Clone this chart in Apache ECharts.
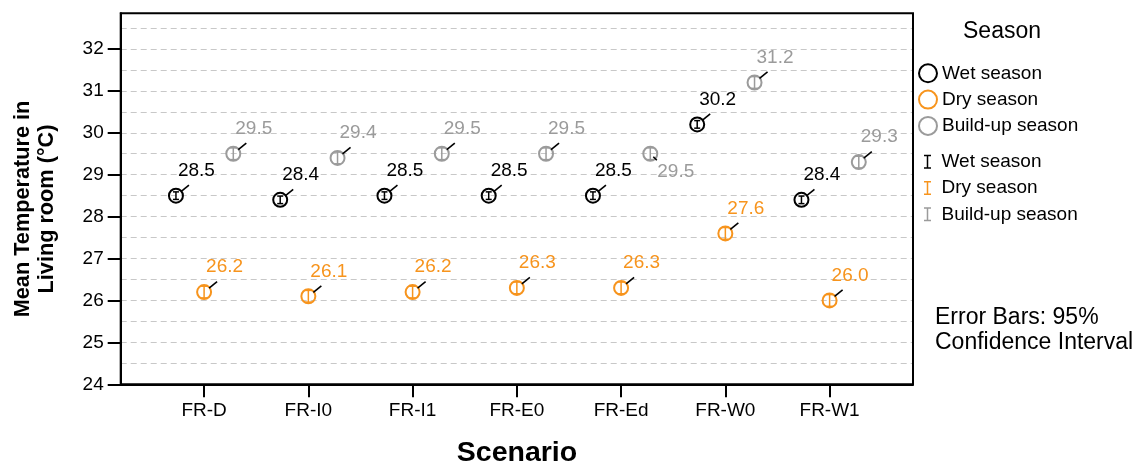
<!DOCTYPE html>
<html>
<head>
<meta charset="utf-8">
<script src="https://cdn.jsdelivr.net/npm/echarts@6/dist/echarts.min.js"></script>
<style>html,body{margin:0;padding:0;background:#fff}#c{width:1141px;height:466px}</style>
</head>
<body>
<div id="c"></div>
<script>
const categories = ['FR-D', 'FR-I0', 'FR-I1', 'FR-E0', 'FR-Ed', 'FR-W0', 'FR-W1'];
const seasons = ['Wet season', 'Dry season', 'Build-up season'];
const wetMeans = [28.5, 28.4, 28.5, 28.5, 28.5, 30.2, 28.4];
const dryMeans = [26.2, 26.1, 26.2, 26.3, 26.3, 27.6, 26.0];
const buildMeans = [29.5, 29.4, 29.5, 29.5, 29.5, 31.2, 29.3];
const wetCI = [0.09, 0.09, 0.09, 0.09, 0.09, 0.09, 0.09];
const dryCI = [0.14, 0.14, 0.14, 0.14, 0.14, 0.14, 0.14];
const buildCI = [0.14, 0.14, 0.14, 0.14, 0.14, 0.14, 0.14];
const yTicks = [24, 25, 26, 27, 28, 29, 30, 31, 32];

const FONT = '"Liberation Sans", Arial, sans-serif';
const colors = ['#000000', '#F7941D', '#9B9B9B'];
const offsets = [-0.27, 0, 0.28];
const means = [wetMeans, dryMeans, buildMeans];
const cis = [wetCI, dryCI, buildCI];
// label placed below-right for this (season index, category index)
const labelBelow = { '2-4': true };

function makeData(s) {
  return categories.map((c, i) => [i + offsets[s], means[s][i], cis[s][i], i]);
}

function pointRenderer(s) {
  return function (params, api) {
    const p = api.coord([api.value(0), api.value(1)]);
    const cx = p[0], cy = p[1];
    const idx = api.value(3);
    const below = labelBelow[s + '-' + idx];
    const txt = api.value(1).toFixed(1);
    const children = [
      { type: 'circle', shape: { cx: cx, cy: cy, r: 7 }, style: { fill: 'none', stroke: colors[s], lineWidth: 2 } }
    ];
    if (below) {
      children.push({ type: 'line', shape: { x1: cx + 3, y1: cy + 3, x2: cx + 6.5, y2: cy + 6.5 }, style: { stroke: '#000', lineWidth: 1.6 } });
      children.push({ type: 'text', style: { x: cx + 7, y: cy + 18, text: txt, fill: colors[s], fontSize: 19, fontFamily: FONT, align: 'left', verticalAlign: 'middle' } });
    } else {
      children.push({ type: 'line', shape: { x1: cx + 5, y1: cy - 4, x2: cx + 13, y2: cy - 10.5 }, style: { stroke: '#000', lineWidth: 1.6 } });
      children.push({ type: 'text', style: { x: cx + 2, y: cy - 25, text: txt, fill: colors[s], fontSize: 19, fontFamily: FONT, align: 'left', verticalAlign: 'middle' } });
    }
    return { type: 'group', children: children };
  };
}

function errRenderer(s) {
  return function (params, api) {
    const x = api.value(0), y = api.value(1), ci = api.value(2);
    const lo = api.coord([x, y - ci]);
    const hi = api.coord([x, y + ci]);
    const st = { stroke: colors[s], lineWidth: 1.5 };
    return {
      type: 'group',
      children: [
        { type: 'line', shape: { x1: lo[0], y1: lo[1], x2: hi[0], y2: hi[1] }, style: st },
        { type: 'line', shape: { x1: lo[0] - 3, y1: lo[1], x2: lo[0] + 3, y2: lo[1] }, style: st },
        { type: 'line', shape: { x1: hi[0] - 3, y1: hi[1], x2: hi[0] + 3, y2: hi[1] }, style: st }
      ]
    };
  };
}

const series = [];
seasons.forEach((name, s) => {
  series.push({
    name: name + ' CI', type: 'custom', renderItem: errRenderer(s), yAxisIndex: 0,
    data: makeData(s), encode: { x: 0, y: 1 }, itemStyle: { color: colors[s] }, z: 3
  });
});
seasons.forEach((name, s) => {
  series.push({
    name: name, type: 'custom', renderItem: pointRenderer(s), yAxisIndex: 0,
    data: makeData(s), encode: { x: 0, y: 1 }, itemStyle: { color: colors[s] }, z: 4
  });
});

const chart = echarts.init(document.getElementById('c'), null, { renderer: 'canvas' });
chart.setOption({
  animation: false,
  backgroundColor: '#fff',
  grid: { left: 120.7, right: 228, top: 13.3, bottom: 81.7, show: true, z: 10, borderColor: '#000', borderWidth: 2, backgroundColor: 'transparent' },
  xAxis: {
    type: 'value', min: -0.8, max: 6.8,
    axisLine: { show: true, onZero: false, lineStyle: { color: '#000', width: 2 } },
    axisTick: { show: true, customValues: categories.map((c, i) => i), length: 13, lineStyle: { color: '#000', width: 2 } },
    axisLabel: { customValues: categories.map((c, i) => i), formatter: v => categories[Math.round(v)], fontSize: 19, fontFamily: FONT, color: '#000', margin: 17 },
    splitLine: { show: false }
  },
  yAxis: [
    {
      type: 'value', min: 24, max: 32.85, position: 'left', z: 5,
      axisLine: { show: true, onZero: false, lineStyle: { color: '#000', width: 2 } },
      axisTick: { show: true, customValues: yTicks, length: 13, lineStyle: { color: '#000', width: 2 } },
      axisLabel: { customValues: yTicks, fontSize: 19, fontFamily: FONT, color: '#000', margin: 17 },
      splitLine: { show: false }
    },
    {
      type: 'value', min: 24, max: 32.85, interval: 0.5, position: 'left', z: 1,
      axisLine: { show: false, onZero: false },
      axisTick: { show: false },
      axisLabel: { show: false },
      splitLine: { show: true, showMinLine: false, showMaxLine: false, lineStyle: { color: '#c8c8c8', type: [6, 4], width: 1 } }
    }
  ],
  legend: [
    {
      orient: 'vertical', left: 918, top: 63.3, padding: 0, itemGap: 6.3,
      itemWidth: 18, itemHeight: 18, selectedMode: false,
      textStyle: { fontSize: 19, fontFamily: FONT, color: '#000', lineHeight: 20 },
      data: seasons.map((n, s) => ({ name: n, icon: 'circle', itemStyle: { color: 'transparent', borderColor: colors[s], borderWidth: 2 } }))
    },
    {
      orient: 'vertical', left: 924, top: 151.7, padding: 0, itemGap: 6.3,
      itemWidth: 18, itemHeight: 14, selectedMode: false,
      formatter: n => n.replace(' CI', ''),
      textStyle: { fontSize: 19, fontFamily: FONT, color: '#000', lineHeight: 20 },
      data: seasons.map((n, s) => ({ name: n + ' CI', icon: 'path://M0,0H7V1.5H4.25V12.5H7V14H0V12.5H2.75V1.5H0Z', itemStyle: { color: colors[s], borderWidth: 0 } }))
    }
  ],
  graphic: [
    { type: 'text', x: 1002, y: 32, style: { text: 'Season', fontSize: 23, fontFamily: FONT, fill: '#000', align: 'center', verticalAlign: 'middle' } },
    { type: 'text', x: 935, y: 330.5, style: { text: 'Error Bars: 95%\nConfidence Interval', fontSize: 23, lineHeight: 25, fontFamily: FONT, fill: '#000', align: 'left', verticalAlign: 'middle' } },
    { type: 'text', x: 517, y: 453, style: { text: 'Scenario', fontSize: 28.5, fontWeight: 'bold', fontFamily: FONT, fill: '#000', align: 'center', verticalAlign: 'middle' } },
    { type: 'text', x: 35, y: 209, rotation: Math.PI / 2, style: { text: 'Mean Temperature in\nLiving room (°C)', fontSize: 21.7, lineHeight: 23.5, fontWeight: 'bold', fontFamily: FONT, fill: '#000', align: 'center', verticalAlign: 'middle' } }
  ],
  series: series
});
</script>
</body>
</html>
